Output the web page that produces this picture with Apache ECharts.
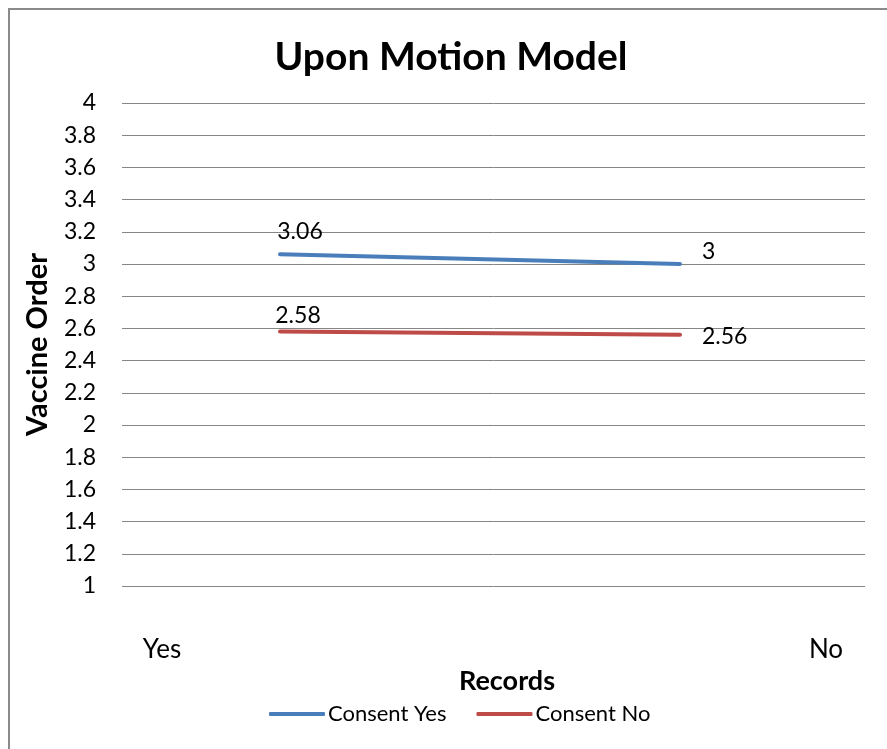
<!DOCTYPE html>
<html>
<head>
<meta charset="utf-8">
<script src="https://cdn.jsdelivr.net/npm/echarts@6/dist/echarts.min.js"></script>
<style>
  html, body { margin: 0; padding: 0; background: #ffffff; }
  #chart { width: 887px; height: 749px; }
</style>
</head>
<body>
<div id="chart"></div>
<script>
// categories on the x axis
const categories = ['Yes', 'No']
// series values
const consentYes = [3.06, 3]
const consentNo = [2.58, 2.56]
const seriesNames = ['Consent Yes', 'Consent No']

const font = 'Lato, "Open Sans", sans-serif'

const myChart = echarts.init(document.getElementById('chart'))

// points sit at positions 1 and 2 of a hidden value axis
const toPoints = (values) => values.map((v, i) => [i + 1, v])

// label placement for first / last point of each series
const labelYes = [{ position: 'top', offset: [20, -6] }, { position: 'right', offset: [17, -12] }]
const labelNo = [{ position: 'top', offset: [18, 0] }, { position: 'right', offset: [17, 2] }]

const option = {
  backgroundColor: '#ffffff',
  textStyle: { fontFamily: font },
  title: {
    text: 'Upon Motion Model',
    left: 446,
    top: 33,
    textAlign: 'center',
    textStyle: { fontSize: 39, fontWeight: 'bold', color: '#000000', fontFamily: font }
  },
  graphic: [
    {
      type: 'rect',
      shape: { x: 9, y: 9, width: 900, height: 800 },
      style: { fill: 'none', stroke: '#8a8a8a', lineWidth: 2 },
      silent: true
    }
  ],
  legend: {
    bottom: 19,
    left: 264,
    icon: 'roundRect',
    itemWidth: 56,
    itemHeight: 4,
    itemGap: 30,
    textStyle: { fontSize: 22, color: '#000000', fontFamily: font, padding: [0, 0, 0, -2] },
    data: seriesNames
  },
  grid: [
    { left: 122, right: 22, top: 103, bottom: 163 },
    { left: 162, right: 61, top: 103, bottom: 163 }
  ],
  xAxis: [
    {
      type: 'value',
      gridIndex: 0,
      min: 0.605,
      max: 2.4625,
      show: false
    },
    {
      type: 'category',
      gridIndex: 1,
      data: categories,
      boundaryGap: false,
      axisLine: { show: false },
      axisTick: { show: false },
      axisLabel: { margin: 51, fontSize: 26, color: '#000000', fontFamily: font },
      name: 'Records',
      nameLocation: 'middle',
      nameGap: 80,
      nameTextStyle: { fontSize: 27, fontWeight: 'bold', color: '#000000', fontFamily: font, padding: [0, 0, 0, 26] }
    }
  ],
  yAxis: [
    {
      type: 'value',
      gridIndex: 0,
      min: 1,
      max: 4,
      interval: 0.2,
      axisLine: { show: false },
      axisTick: { show: false },
      splitLine: { lineStyle: { color: '#868686', width: 1 } },
      axisLabel: {
        margin: 26,
        fontSize: 23,
        color: '#000000',
        fontFamily: font,
        formatter: (v) => String(Math.round(v * 10) / 10)
      },
      name: 'Vaccine Order',
      nameLocation: 'middle',
      nameGap: 70,
      nameTextStyle: { fontSize: 29, fontWeight: 'bold', color: '#000000', fontFamily: font }
    },
    {
      type: 'value',
      gridIndex: 1,
      min: 1,
      max: 4,
      show: false
    }
  ],
  series: [
    {
      name: seriesNames[0],
      type: 'line',
      xAxisIndex: 0,
      yAxisIndex: 0,
      data: toPoints(consentYes).map((p, i) => ({ value: p, label: labelYes[i] })),
      showSymbol: true,
      symbol: 'circle',
      symbolSize: 0,
      color: '#4a7ebb',
      lineStyle: { width: 4, color: '#4a7ebb', cap: 'round' },
      label: { show: true, fontSize: 23, color: '#000000', fontFamily: font, formatter: (p) => p.value[1] }
    },
    {
      name: seriesNames[1],
      type: 'line',
      xAxisIndex: 0,
      yAxisIndex: 0,
      data: toPoints(consentNo).map((p, i) => ({ value: p, label: labelNo[i] })),
      showSymbol: true,
      symbol: 'circle',
      symbolSize: 0,
      color: '#be4b48',
      lineStyle: { width: 4, color: '#be4b48', cap: 'round' },
      label: { show: true, fontSize: 23, color: '#000000', fontFamily: font, formatter: (p) => p.value[1] }
    }
  ]
}

myChart.setOption(option, true)
addEventListener('resize', () => {
  myChart.resize()
})
</script>
</body>
</html>
